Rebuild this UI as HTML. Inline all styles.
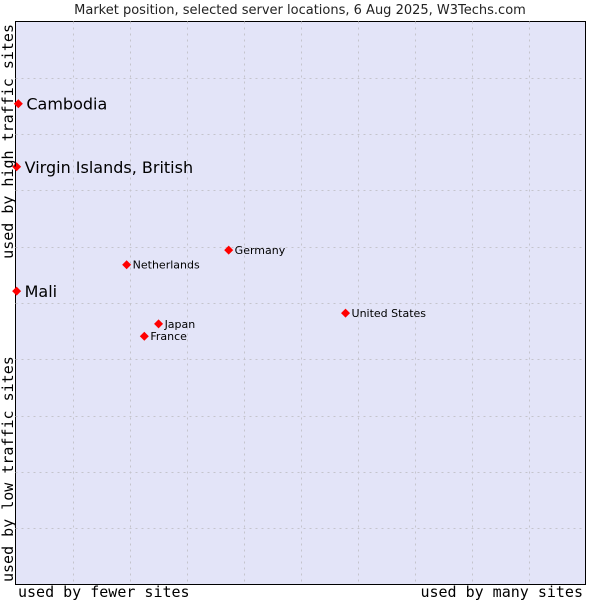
<!DOCTYPE html>
<html><head><meta charset="utf-8"><style>
body{margin:0;background:#fff;width:600px;height:600px;overflow:hidden}
svg{display:block}
</style></head><body>
<svg id="chart" width="600" height="600" xmlns="http://www.w3.org/2000/svg">
<text x="300" y="14" text-anchor="middle" font-family="DejaVu Sans, sans-serif" font-size="13" fill="#222">Market position, selected server locations, 6 Aug 2025, W3Techs.com</text>
<rect x="15.5" y="21.5" width="570" height="563" fill="#e3e4f8" stroke="#000"/>
<g id="grid"></g>
<g id="marks"></g>
<text x="18" y="597" font-family="DejaVu Sans Mono, monospace" font-size="15" fill="#000">used by fewer sites</text>
<text x="583" y="597" text-anchor="end" font-family="DejaVu Sans Mono, monospace" font-size="15" fill="#000">used by many sites</text>
<text transform="translate(13,582) rotate(-90)" font-family="DejaVu Sans Mono, monospace" font-size="15" fill="#000">used by low traffic sites</text>
<text transform="translate(13,24) rotate(-90)" text-anchor="end" font-family="DejaVu Sans Mono, monospace" font-size="15" fill="#000">used by high traffic sites</text>
</svg>
<script>
const names = ["Cambodia","Virgin Islands, British","Mali","Germany","Netherlands","Japan","France","United States"];
const xVals = [0.05,0.02,0.02,3.74,1.95,2.51,2.26,5.79];
const yVals = [8.54,7.42,5.21,5.94,5.68,4.63,4.41,4.82];
const bigLabel = [true,true,true,false,false,false,false,false];
const NS="http://www.w3.org/2000/svg";
const X0=15.5,X1=585.5,Y0=584.5,Y1=21.5;
const sx=v=>X0+v/10*(X1-X0);
const sy=v=>Y0-v/10*(Y0-Y1);
const grid=document.getElementById('grid');
for(let i=1;i<10;i++){
  const v=document.createElementNS(NS,'line');
  v.setAttribute('x1',Math.round(sx(i))+0.5);v.setAttribute('x2',Math.round(sx(i))+0.5);
  v.setAttribute('y1',Y1);v.setAttribute('y2',Y0);
  v.setAttribute('stroke','#c4c4cc');v.setAttribute('stroke-dasharray','2,4');
  
  
  grid.appendChild(v);
  const h=document.createElementNS(NS,'line');
  h.setAttribute('y1',Math.round(sy(i))+0.5);h.setAttribute('y2',Math.round(sy(i))+0.5);
  h.setAttribute('x1',X0);h.setAttribute('x2',X1);
  h.setAttribute('stroke','#c4c4cc');h.setAttribute('stroke-dasharray','2,4');
  
  
  grid.appendChild(h);
}
const marks=document.getElementById('marks');
names.forEach((n,i)=>{
  const cx=sx(xVals[i]),cy=sy(yVals[i]);
  const p=document.createElementNS(NS,'polygon');
  p.setAttribute('points',`${cx},${cy-4.5} ${cx+4.5},${cy} ${cx},${cy+4.5} ${cx-4.5},${cy}`);
  p.setAttribute('fill','#f00');
  
  
  marks.appendChild(p);
  const t=document.createElementNS(NS,'text');
  t.textContent=n;
  t.setAttribute('font-family','DejaVu Sans, sans-serif');
  t.setAttribute('font-size',bigLabel[i]?16:11);
  t.setAttribute('x',cx+(bigLabel[i]?8:6));
  t.setAttribute('y',cy+(bigLabel[i]?6:4));
  t.setAttribute('fill','#000');
  
  
  marks.appendChild(t);
});
</script>
</body></html>
